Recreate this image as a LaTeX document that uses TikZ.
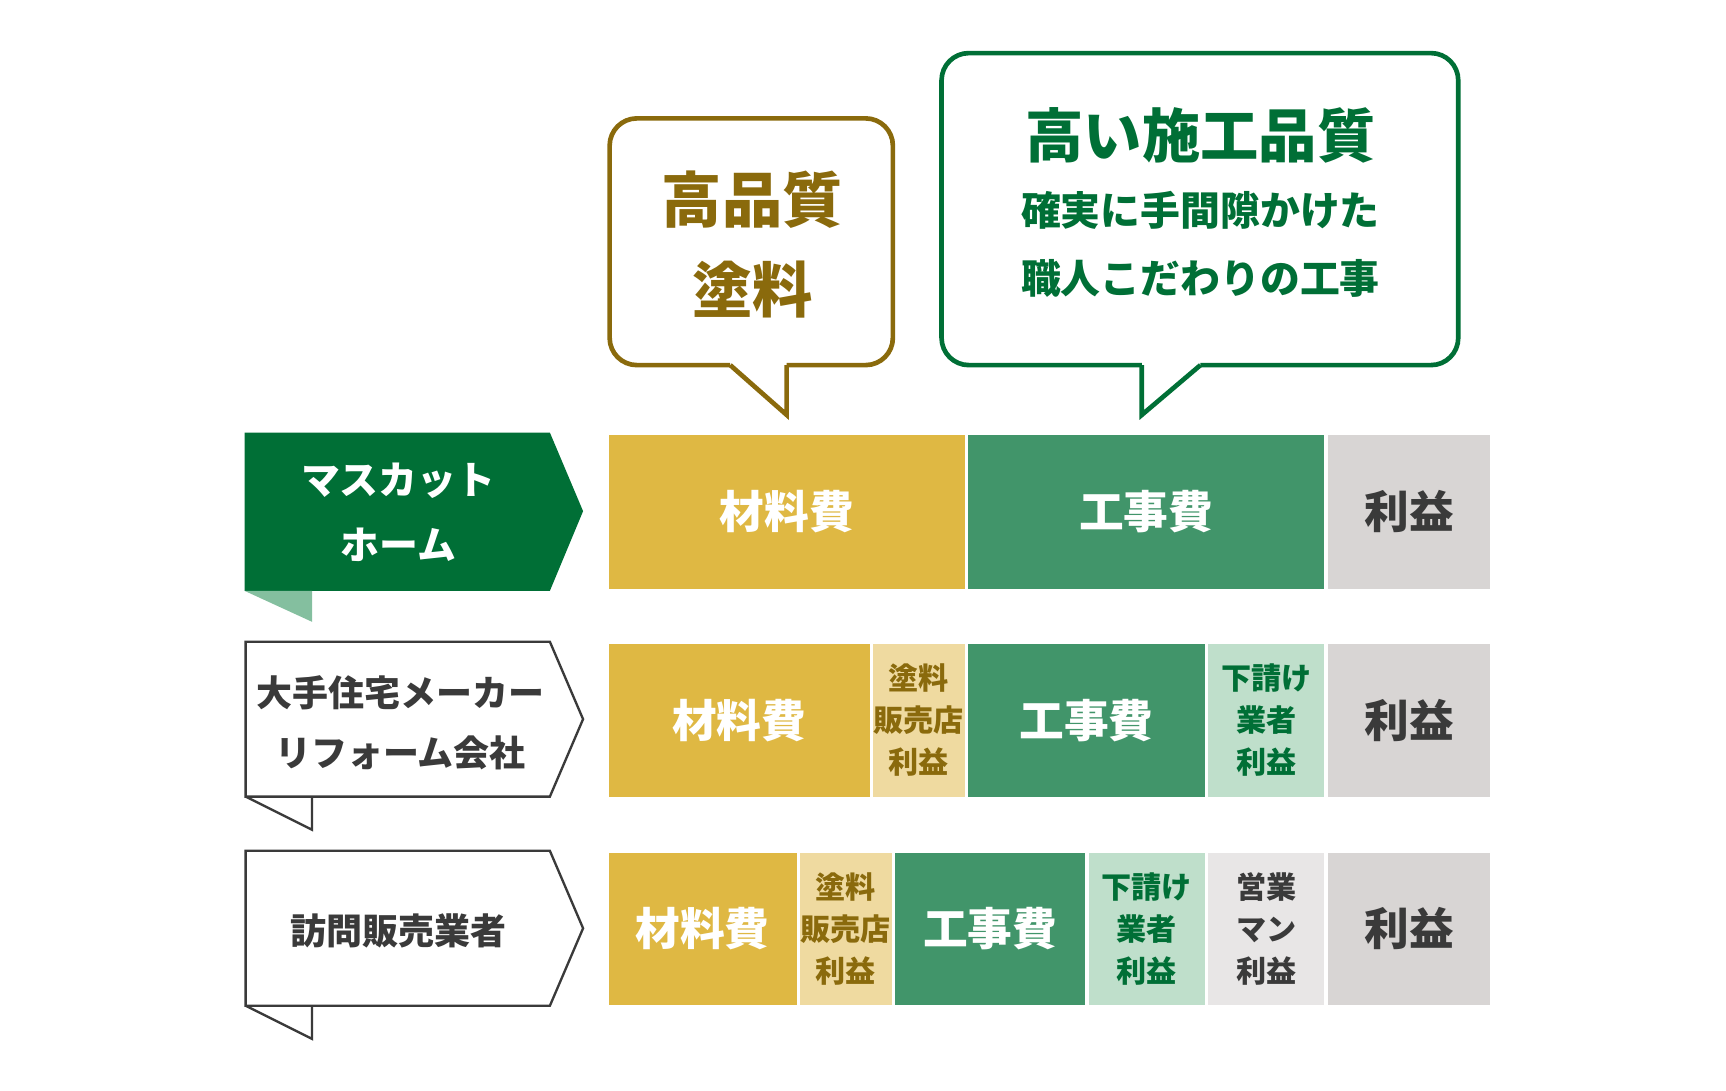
\documentclass[tikz,border=0pt]{standalone}
\usepackage{fontspec}
\newfontfamily\jp{Noto Sans CJK JP}
\newcommand\jpb{\jp\bfseries}
\usetikzlibrary{positioning}
\definecolor{mgreen}{HTML}{006F36}
\definecolor{wgreen}{HTML}{41956A}
\definecolor{lgreen}{HTML}{BFDFCB}
\definecolor{tgreen}{HTML}{84BF9F}
\definecolor{gold}{HTML}{DFB843}
\definecolor{lgold}{HTML}{EFDAA0}
\definecolor{dgold}{HTML}{8A6A0C}
\definecolor{gray1}{HTML}{D8D5D4}
\definecolor{gray2}{HTML}{E8E6E6}
\definecolor{ink}{HTML}{3A3A3A}
\tikzset{
  cell/.style={inner sep=0pt, align=center, font=\jpb},
  big/.style={cell, text=white, font=\jpb\fontsize{23}{26}\selectfont},
  small/.style={cell, font=\jpb\fontsize{15.5}{21.5}\selectfont}
}
\newcommand\costbar[6]{% x1,x2,y1,y2,color,name
  \fill[#5] (#1,#3) rectangle (#2,#4);
  \coordinate (#6) at ({(#1+#2)/2},{(#3+#4)/2});}
\begin{document}
\begin{tikzpicture}[x=0.02cm, y=-0.02cm]
\useasboundingbox (0,0) rectangle (1560,986);
% speech bubbles
\draw[dgold, line width=2.4pt, rounded corners=14pt]
  (660,330) -- (551,330) -- (551,107) -- (807,107) -- (807,330) -- (711,330);
\draw[dgold, line width=2.4pt, line join=miter] (660,330) -- (711,375) -- (711,330);
\node[cell, text=dgold, font=\jpb\fontsize{31}{46}\selectfont] (paint) at (680,221) {高品質\\塗料};
\draw[mgreen, line width=2.4pt, rounded corners=14pt]
  (1032,330) -- (851,330) -- (851,48) -- (1318,48) -- (1318,330) -- (1085,330);
\draw[mgreen, line width=2.4pt] (1085,330) -- (1032,375) -- (1032,330);
\node[cell, text=mgreen, font=\jpb\fontsize{30}{34}\selectfont] (craft) at (1085,122) {高い施工品質};
\node[cell, text=mgreen, font=\jpb\fontsize{20.5}{35}\selectfont, below=14pt of craft] (craftsub) {確実に手間隙かけた\\職人こだわりの工事};
% row labels
\fill[mgreen] (221,391) -- (497,391) -- (527,462) -- (497,534) -- (221,534) -- cycle;
\fill[tgreen] (221,534) -- (282,534) -- (282,562) -- cycle;
\node[cell, text=white, font=\jpb\fontsize{20}{33}\selectfont] (muscat) at (360,463) {マスカット\\ホーム};
\draw[ink, line width=1.2pt] (222,580) -- (497,580) -- (527,650) -- (497,720) -- (222,720) -- cycle;
\draw[ink, line width=1.2pt] (222,720) -- (282,750) -- (282,720);
\node[cell, text=ink, font=\jpb\fontsize{18.5}{31}\selectfont] (maker) at (362,653) {大手住宅メーカー\\リフォーム会社};
\draw[ink, line width=1.2pt] (222,769) -- (497,769) -- (527,839) -- (497,909) -- (222,909) -- cycle;
\draw[ink, line width=1.2pt] (222,909) -- (282,939) -- (282,909);
\node[cell, text=ink, font=\jpb\fontsize{18.5}{31}\selectfont] (visit) at (360,841) {訪問販売業者};
% row 1
\costbar{550}{872}{393}{532}{gold}{a1}
\costbar{875}{1197}{393}{532}{wgreen}{b1}
\costbar{1200}{1347}{393}{532}{gray1}{c1}
\node[big] at (a1) {材料費};
\node[big] at (b1) {工事費};
\node[big, text=ink] at (c1) {利益};
% row 2
\costbar{550}{786}{582}{720}{gold}{a2}
\costbar{789}{872}{582}{720}{lgold}{d2}
\costbar{875}{1089}{582}{720}{wgreen}{b2}
\costbar{1092}{1197}{582}{720}{lgreen}{e2}
\costbar{1200}{1347}{582}{720}{gray1}{c2}
\node[big] at (a2) {材料費};
\node[small, text=dgold] at (d2) {塗料\\販売店\\利益};
\node[big] at (b2) {工事費};
\node[small, text=mgreen] at (e2) {下請け\\業者\\利益};
\node[big, text=ink] at (c2) {利益};
% row 3
\costbar{550}{720}{771}{908}{gold}{a3}
\costbar{723}{806}{771}{908}{lgold}{d3}
\costbar{809}{981}{771}{908}{wgreen}{b3}
\costbar{984}{1089}{771}{908}{lgreen}{e3}
\costbar{1092}{1197}{771}{908}{gray2}{f3}
\costbar{1200}{1347}{771}{908}{gray1}{c3}
\node[big] at (a3) {材料費};
\node[small, text=dgold] at (d3) {塗料\\販売店\\利益};
\node[big] at (b3) {工事費};
\node[small, text=mgreen] at (e3) {下請け\\業者\\利益};
\node[small, text=ink] at (f3) {営業\\マン\\利益};
\node[big, text=ink] at (c3) {利益};
\end{tikzpicture}
\end{document}
